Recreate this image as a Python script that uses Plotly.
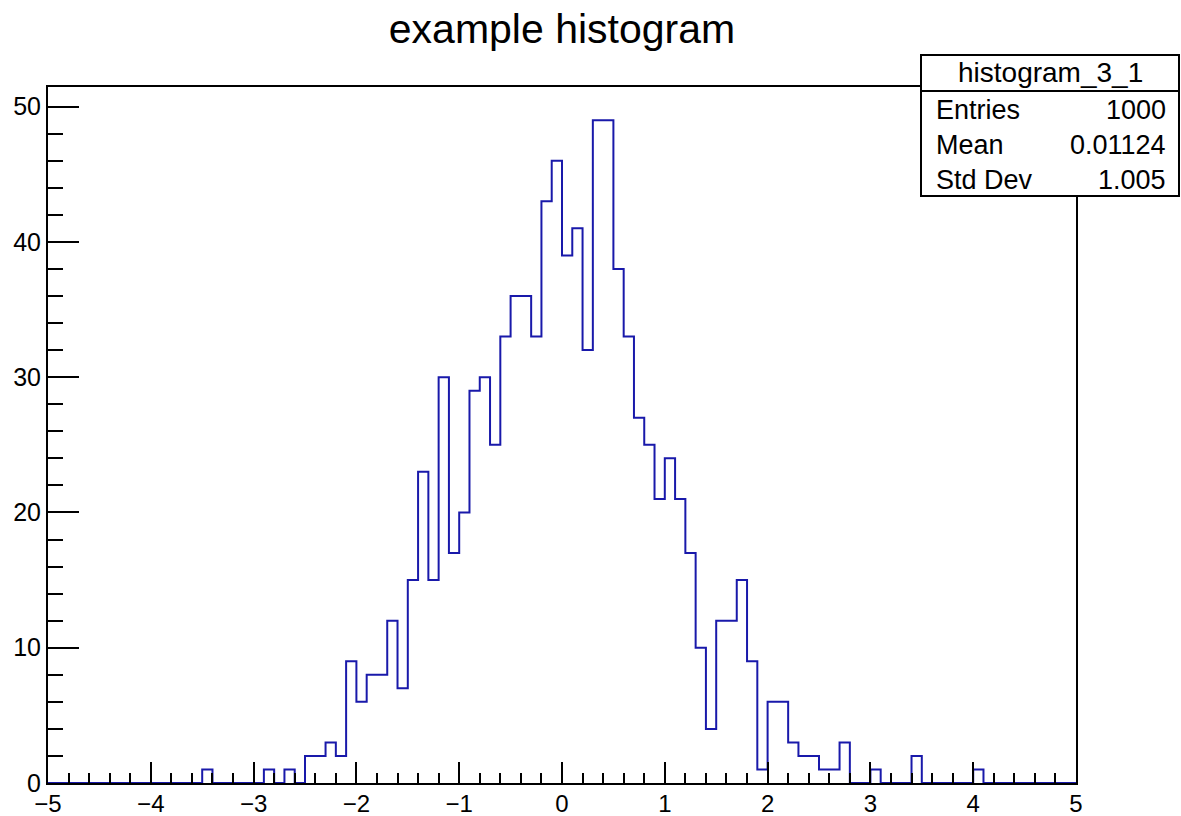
import numpy as np
import plotly.graph_objects as go

# ---- data ----
title = "example histogram"
hist_name = "histogram_3_1"
x_min, x_max, n_bins = -5.0, 5.0, 100
counts = [
    0, 0, 0, 0, 0, 0, 0, 0, 0, 0,      # -5.0 .. -4.0
    0, 0, 0, 0, 0, 1, 0, 0, 0, 0,      # -4.0 .. -3.0
    0, 1, 0, 1, 0, 2, 2, 3, 2, 9,      # -3.0 .. -2.0
    6, 8, 8, 12, 7, 15, 23, 15, 30, 17,  # -2.0 .. -1.0
    20, 29, 30, 25, 33, 36, 36, 33, 43, 46,  # -1.0 .. 0.0
    39, 41, 32, 49, 49, 38, 33, 27, 25, 21,  # 0.0 .. 1.0
    24, 21, 17, 10, 4, 12, 12, 15, 9, 1,    # 1.0 .. 2.0
    6, 6, 3, 2, 2, 1, 1, 3, 0, 0,          # 2.0 .. 3.0
    1, 0, 0, 0, 2, 0, 0, 0, 0, 0,          # 3.0 .. 4.0
    1, 0, 0, 0, 0, 0, 0, 0, 0, 0,          # 4.0 .. 5.0
]
stat_labels = ["Entries", "Mean", "Std Dev"]
stat_values = ["1000", "0.01124", "1.005"]
x_ticks = [-5, -4, -3, -2, -1, 0, 1, 2, 3, 4, 5]
y_ticks = [0, 10, 20, 30, 40, 50]

# ---- geometry ----
W, H = 1181, 816
ML, MR, MT, MB = 48, 105, 87, 33
PW, PH = W - ML - MR, H - MT - MB

def px(x):  # pixel x -> paper
    return (x - ML) / PW

def py(y):  # pixel y -> paper
    return (H - MB - y) / PH

edges = np.linspace(x_min, x_max, n_bins + 1)
xs = list(edges)
ys = list(counts) + [counts[-1]]

line_col = "rgb(25,25,170)"
FONT = "Liberation Sans, Arial, Helvetica, sans-serif"

fig = go.Figure()
fig.add_trace(go.Scatter(x=xs, y=ys, mode="lines", line=dict(color=line_col, width=2, shape="hv"),
                         hoverinfo="skip", showlegend=False))

ymax = max(counts) * 1.05

fig.update_layout(
    width=W, height=H,
    margin=dict(l=ML, r=MR, t=MT, b=MB, pad=0, autoexpand=False),
    paper_bgcolor="white", plot_bgcolor="white",
    font=dict(family=FONT, color="black", size=25),
    showlegend=False,
    title=dict(text=title, xref="container", x=(ML + W - MR) / 2 / W, xanchor="center",
               yref="container", y=1 - 29 / H, yanchor="middle",
               font=dict(size=41, family=FONT, color="black")),
    xaxis=dict(range=[x_min, x_max], tickvals=x_ticks, ticks="inside", ticklen=21, tickwidth=1.5,
               tickcolor="black", showline=True, linecolor="black", linewidth=2, mirror=True,
               showgrid=False, zeroline=False, tickfont=dict(size=24), automargin=False,
               ticklabelstandoff=-2,
               minor=dict(ticks="inside", ticklen=10, tickwidth=1.5, tickcolor="black", dtick=0.2,
                          tick0=0, showgrid=False)),
    yaxis=dict(range=[0, ymax], tickvals=y_ticks, ticks="inside", ticklen=31, tickwidth=1.5,
               tickcolor="black", showline=True, linecolor="black", linewidth=2, mirror=True,
               showgrid=False, zeroline=False, tickfont=dict(size=25), automargin=False,
               minor=dict(ticks="inside", ticklen=15, tickwidth=1.5, tickcolor="black", dtick=2,
                          tick0=0, showgrid=False)),
)

# stats box
bx0, bx1 = px(921), px(1179)
by_top, by_sep, by_bot = py(55), py(91), py(196)
fig.add_shape(type="rect", xref="paper", yref="paper", x0=bx0, x1=bx1, y0=by_bot, y1=by_top,
              line=dict(color="black", width=2), fillcolor="white", layer="above")
fig.add_shape(type="line", xref="paper", yref="paper", x0=bx0, x1=bx1, y0=by_sep, y1=by_sep,
              line=dict(color="black", width=2), layer="above")
fig.add_annotation(xref="paper", yref="paper", x=(bx0 + bx1) / 2, y=py(73), text=hist_name,
                   showarrow=False, xanchor="center", yanchor="middle", font=dict(size=28, family=FONT))
row_y = [110, 145, 180]
for lab, val, yy in zip(stat_labels, stat_values, row_y):
    fig.add_annotation(xref="paper", yref="paper", x=px(934), y=py(yy), text=lab, showarrow=False,
                       xanchor="left", yanchor="middle", font=dict(size=27, family=FONT))
    fig.add_annotation(xref="paper", yref="paper", x=px(1168), y=py(yy), text=val, showarrow=False,
                       xanchor="right", yanchor="middle", font=dict(size=27, family=FONT))

fig.write_html("out.html", config={"displayModeBar": False},
               post_script="document.body.style.margin='0';document.body.style.padding='0';")
